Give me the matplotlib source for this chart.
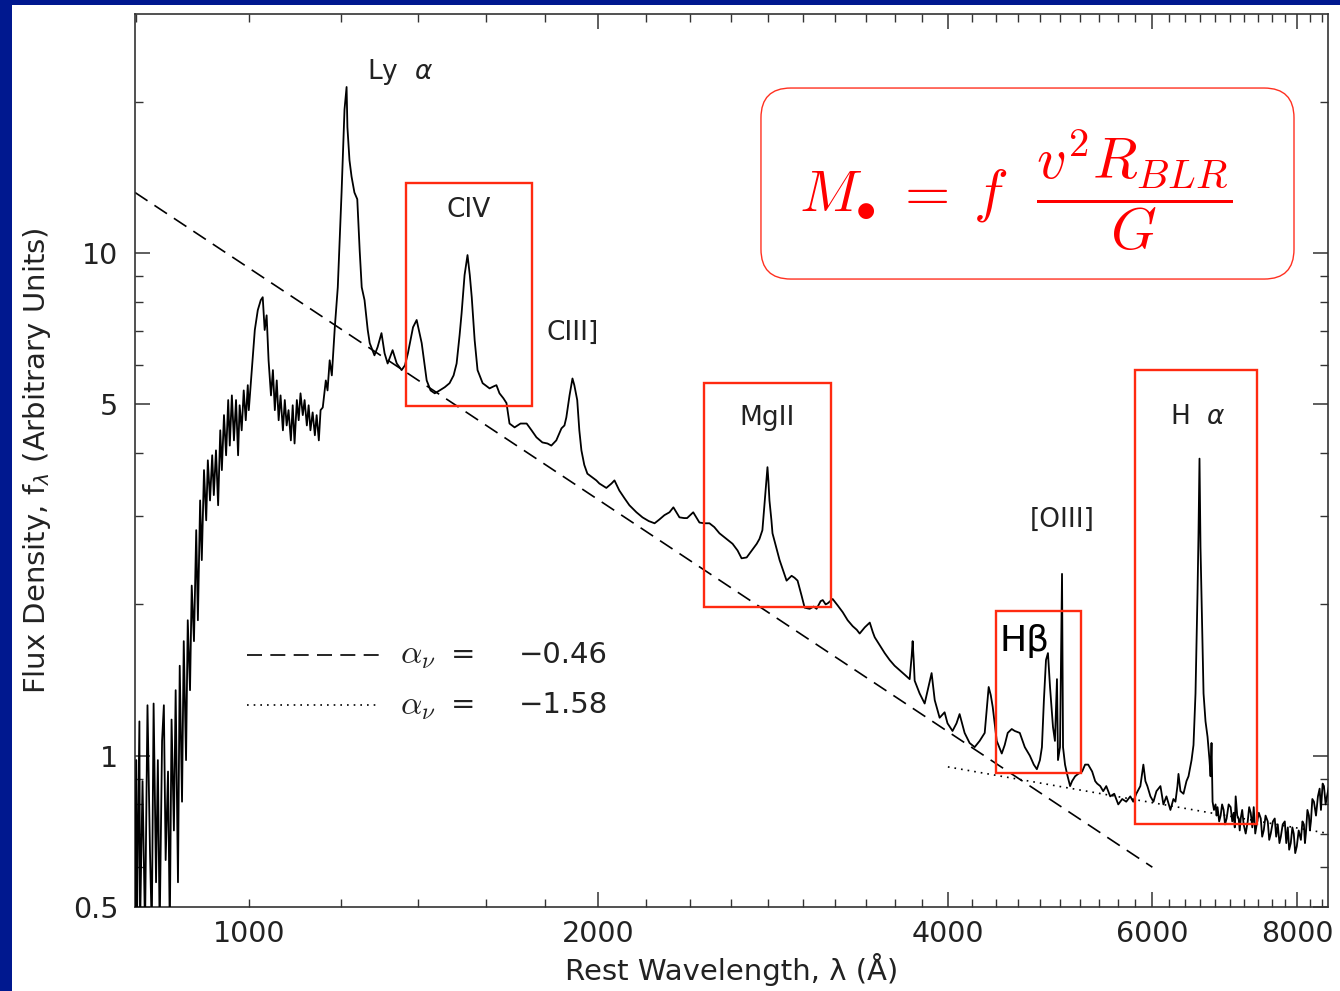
import numpy as np
import matplotlib
matplotlib.use("Agg")
import matplotlib.pyplot as plt
from matplotlib.patches import Rectangle, FancyBboxPatch
from matplotlib.ticker import FixedLocator, NullFormatter, FuncFormatter

plt.rcParams['font.family'] = ['DejaVu Sans']
plt.rcParams['mathtext.fontset'] = 'dejavusans'

# composite quasar spectrum (rest wavelength in A, flux)
wave = [798, 800, 801, 805, 806, 810, 814, 818, 822, 825, 828, 832, 835, 838, 842, 845,
        848, 852, 855, 858, 862, 865, 869, 872, 876, 879, 883, 886, 890, 893, 897, 901,
        904, 908, 911, 915, 919, 922, 926, 930, 933, 937, 941, 945, 948, 952, 956, 960,
        963, 967, 971, 975, 979, 982, 986, 990, 994, 998, 1000, 1006, 1012, 1018, 1024, 1028,
        1032, 1036, 1040, 1045, 1049, 1053, 1057, 1061, 1065, 1070, 1074, 1078, 1082, 1087,
        1091, 1095, 1100, 1104, 1108, 1113, 1117, 1122, 1126, 1130, 1135, 1140, 1144, 1149,
        1153, 1158, 1165, 1169, 1174, 1179, 1186, 1193, 1202, 1209, 1214, 1216, 1221, 1226,
        1233, 1240, 1246, 1251, 1258, 1266, 1271, 1283, 1291, 1301, 1309, 1317, 1325, 1330,
        1341, 1354, 1363, 1371, 1385, 1395, 1409, 1423, 1434, 1446, 1460, 1475, 1489, 1501,
        1510, 1519, 1525, 1534, 1543, 1550, 1556, 1565, 1574, 1590, 1612, 1625, 1634, 1644,
        1657, 1667, 1677, 1694, 1714, 1735, 1752, 1769, 1790, 1808, 1822, 1840, 1859, 1870,
        1877, 1889, 1900, 1907, 1918, 1926, 1934, 1945, 1957, 1976, 1992, 2004, 2020, 2032,
        2053, 2065, 2085, 2107, 2127, 2157, 2183, 2210, 2236, 2257, 2280, 2303, 2321, 2335,
        2349, 2371, 2385, 2414, 2429, 2444, 2468, 2493, 2517, 2543, 2578, 2610, 2636, 2657,
        2684, 2711, 2738, 2753, 2769, 2780, 2786, 2797, 2802, 2808, 2819, 2825, 2847, 2865,
        2888, 2905, 2934, 2951, 2969, 2993, 3011, 3041, 3065, 3083, 3108, 3121, 3139, 3152,
        3183, 3215, 3247, 3279, 3312, 3339, 3358, 3392, 3426, 3447, 3460, 3494, 3529, 3564,
        3599, 3635, 3671, 3708, 3723, 3730, 3738, 3745, 3782, 3820, 3843, 3873, 3897, 3935,
        3974, 3997, 4037, 4069, 4094, 4135, 4176, 4218, 4260, 4303, 4320, 4337, 4355, 4372,
        4407, 4451, 4477, 4504, 4540, 4567, 4613, 4659, 4706, 4743, 4772, 4801, 4820, 4839,
        4859, 4878, 4898, 4927, 4946, 4966, 4976, 4996, 5016, 5026, 5046, 5066, 5097, 5117,
        5148, 5179, 5220, 5251, 5283, 5325, 5357, 5378, 5411, 5443, 5476, 5519, 5563, 5608,
        5652, 5697, 5743, 5777, 5812, 5859, 5894, 5918, 5941, 5977, 6013, 6049, 6097, 6133,
        6170, 6219, 6256, 6281, 6306, 6319, 6344, 6382, 6420, 6446, 6485, 6510, 6536, 6562,
        6575, 6588, 6601, 6614, 6641, 6667, 6694, 6720, 6734, 6747, 6761, 6780, 6801, 6815,
        6828, 6850, 6870, 6890, 6911, 6930, 6952, 6980, 7008, 7030, 7050, 7065, 7078, 7100,
        7120, 7135, 7149, 7170, 7191, 7220, 7249, 7270, 7292, 7315, 7336, 7358, 7379, 7410,
        7439, 7460, 7483, 7510, 7543, 7565, 7588, 7620, 7648, 7670, 7694, 7720, 7741, 7770,
        7802, 7825, 7849, 7870, 7895, 7920, 7942, 7965, 7990, 8020, 8055, 8080, 8103, 8120,
        8135, 8160, 8184, 8200, 8217, 8240, 8266, 8300, 8332, 8360, 8382, 8410, 8432, 8460,
        8483, 8516]
flux = [0.45, 0.98, 0.45, 1.17, 0.45, 0.89, 0.45, 1.26, 0.65, 0.45, 1.27, 0.56, 0.98, 0.45, 1.07, 1.26,
        0.62, 0.93, 0.45, 1.18, 0.71, 1.35, 0.56, 1.51, 0.81, 1.69, 0.98, 1.86, 1.35, 2.18, 1.69, 2.81,
        1.86, 3.22, 2.45, 3.70, 2.94, 3.87, 3.22, 3.96, 3.30, 4.05, 3.15, 4.44, 3.70, 4.76, 3.96, 5.10,
        4.14, 5.21, 4.24, 5.10, 3.96, 4.98, 4.44, 5.33, 4.65, 5.46, 4.87, 5.85, 7.03, 7.70, 8.06, 8.17,
        7.03, 7.52, 6.12, 5.21, 5.85, 4.87, 5.58, 4.65, 5.21, 4.44, 5.10, 4.54, 4.87, 4.24,
        4.98, 4.18, 5.10, 4.65, 5.26, 4.76, 5.10, 4.54, 4.98, 4.44, 4.82, 4.34, 4.76, 4.24,
        4.87, 4.93, 5.58, 5.33, 6.12, 5.71, 7.12, 8.55, 13.2, 19.3, 21.4, 17.8, 15.3, 14.2,
        13.2, 12.8, 10.1, 8.55, 8.06, 7.03, 6.62, 6.26, 6.50, 6.93, 6.32, 6.03, 6.26, 6.41,
        6.03, 5.85, 5.98, 6.32, 7.12, 7.36, 6.62, 5.58, 5.33, 5.26, 5.33, 5.41, 5.51, 5.71,
        6.03, 6.87, 7.59, 9.04, 9.91, 9.04, 8.17, 6.71, 5.85, 5.51, 5.38, 5.43, 5.46, 5.26,
        5.14, 5.03, 4.58, 4.50, 4.58, 4.58, 4.44, 4.30, 4.20, 4.18, 4.14, 4.24, 4.48, 4.54,
        4.71, 5.21, 5.63, 5.46, 5.10, 4.44, 4.05, 3.79, 3.64, 3.58, 3.53, 3.48, 3.44, 3.41,
        3.48, 3.53, 3.37, 3.25, 3.15, 3.05, 2.98, 2.93, 2.90, 2.95, 3.01, 3.05, 3.12, 3.05,
        2.98, 2.97, 2.97, 3.05, 2.98, 2.91, 2.90, 2.90, 2.85, 2.77, 2.70, 2.64, 2.56, 2.47,
        2.48, 2.56, 2.64, 2.70, 2.81, 3.15, 3.37, 3.75, 3.53, 3.22, 2.94, 2.77, 2.59, 2.45,
        2.32, 2.23, 2.28, 2.26, 2.23, 2.08, 1.97, 1.96, 1.98, 1.96, 2.03, 2.04, 2.00, 2.01,
        2.05, 1.99, 1.93, 1.86, 1.81, 1.78, 1.75, 1.80, 1.84, 1.76, 1.72, 1.66, 1.60, 1.55,
        1.51, 1.48, 1.45, 1.42, 1.58, 1.69, 1.55, 1.41, 1.33, 1.27, 1.35, 1.46, 1.29, 1.19,
        1.22, 1.16, 1.12, 1.16, 1.21, 1.11, 1.06, 1.04, 1.07, 1.11, 1.23, 1.37, 1.32, 1.25,
        1.07, 1.01, 1.05, 1.11, 1.13, 1.12, 1.11, 1.04, 1.00, 0.96, 0.94, 0.98, 1.04, 1.29,
        1.55, 1.60, 1.37, 1.14, 1.07, 1.42, 0.98, 1.04, 2.30, 1.04, 0.96, 0.92, 0.87, 0.89,
        0.91, 0.92, 0.93, 0.96, 0.96, 0.93, 0.89, 0.88, 0.87, 0.85, 0.87, 0.83, 0.84, 0.80,
        0.82, 0.81, 0.83, 0.81, 0.84, 0.87, 0.96, 0.89, 0.87, 0.83, 0.81, 0.85, 0.87, 0.80,
        0.83, 0.78, 0.82, 0.81, 0.87, 0.92, 0.85, 0.84, 0.89, 0.91, 0.98, 1.05, 1.33, 2.10,
        2.77, 3.90, 2.60, 2.10, 1.33, 1.17, 1.09, 0.98, 0.91, 1.06, 0.81, 0.78, 0.80, 0.76,
        0.79, 0.74, 0.76, 0.80, 0.78, 0.73, 0.75, 0.80, 0.79, 0.74, 0.77, 0.72, 0.83, 0.76,
        0.75, 0.71, 0.75, 0.78, 0.73, 0.70, 0.74, 0.79, 0.77, 0.72, 0.79, 0.70, 0.73, 0.77,
        0.75, 0.69, 0.71, 0.76, 0.74, 0.68, 0.70, 0.74, 0.75, 0.69, 0.73, 0.67, 0.69, 0.73,
        0.74, 0.67, 0.72, 0.65, 0.67, 0.72, 0.70, 0.64, 0.66, 0.71, 0.68, 0.74, 0.73, 0.67,
        0.70, 0.78, 0.76, 0.71, 0.74, 0.82, 0.81, 0.76, 0.83, 0.86, 0.78, 0.88, 0.87, 0.80,
        0.83, 0.87]

# power-law continuum fits (end points)
blue_fit_wave = [798, 6000]
blue_fit_flux = [13.2, 0.60]
red_fit_wave = [4000, 8516]
red_fit_flux = [0.95, 0.70]

# line regions boxed in red: (wave_lo, wave_hi, flux_lo, flux_hi)
box_civ = (1365, 1755, 4.96, 13.8)
box_mgii = (2468, 3170, 1.98, 5.51)
box_hb = (4398, 5210, 0.925, 1.94)
box_ha = (5800, 7379, 0.732, 5.85)

fig = plt.figure(figsize=(13.4, 9.91), dpi=100)
fig.patch.set_facecolor('white')
# dark blue slide frame (left and top strips)
fig.add_artist(Rectangle((0, 0), 12 / 1340, 1, transform=fig.transFigure,
                         facecolor='#00188f', edgecolor='none', zorder=-5))
fig.add_artist(Rectangle((0, (991 - 5) / 991), 1, 5 / 991, transform=fig.transFigure,
                         facecolor='#00188f', edgecolor='none', zorder=-5))

ax = fig.add_axes([135 / 1340, 84 / 991, 1193 / 1340, 893 / 991])
ax.set_xscale('log')
ax.set_yscale('log')

ax.plot(wave, flux, color='black', lw=1.3, zorder=3)
ax.plot(blue_fit_wave, blue_fit_flux, color='black', lw=1.2, ls=(0, (9, 5)), zorder=2)
ax.plot(red_fit_wave, red_fit_flux, color='black', lw=1.2, ls=(0, (1, 3)), zorder=2)

ax.set_xlim(798, 8500)
ax.set_ylim(0.5, 29.9)

for b in [box_civ, box_mgii, box_hb, box_ha]:
    ax.add_patch(Rectangle((b[0], b[2]), b[1] - b[0], b[3] - b[2], facecolor='none',
                           edgecolor='#ff2a10', lw=1.7, zorder=4))

# ticks
ax.xaxis.set_major_locator(FixedLocator([2000, 4000, 6000, 8000]))
ax.xaxis.set_minor_locator(FixedLocator([w for w in range(800, 8600, 200) if w % 2000 != 0]))
ax.xaxis.set_major_formatter(FuncFormatter(lambda v, p: '%d' % v))
ax.xaxis.set_minor_formatter(FuncFormatter(lambda v, p: '1000' if abs(v - 1000) < 1 else ''))
ax.yaxis.set_major_locator(FixedLocator([0.5, 1, 5, 10]))
ax.yaxis.set_minor_locator(FixedLocator([0.6, 0.7, 0.8, 0.9, 2, 3, 4, 6, 7, 8, 9, 20]))
ax.yaxis.set_major_formatter(FuncFormatter(lambda v, p: '%g' % v))
ax.yaxis.set_minor_formatter(NullFormatter())

ax.tick_params(which='both', direction='in', top=True, right=True, color='#333333')
ax.tick_params(which='major', length=11, width=1.1, labelsize=20.5, labelcolor='#222222')
ax.tick_params(which='minor', length=6, width=1.0, labelsize=20.5, labelcolor='#222222')
ax.tick_params(axis='x', which='both', pad=9)
ax.tick_params(axis='y', which='both', pad=12)
for s in ax.spines.values():
    s.set_linewidth(1.2)
    s.set_color('#333333')

ax.set_xlabel('Rest Wavelength, \u03bb (\u00c5)', fontsize=21, color='#222222', labelpad=4)
ax.set_ylabel(r'Flux Density, f$_\lambda$ (Arbitrary Units)', fontsize=21, color='#222222', labelpad=14)

# line labels
ax.text(1349, 22.9, r'Ly  $\alpha$', fontsize=19, ha='center', va='center', color='#222222')
ax.text(1546, 12.2, 'CIV', fontsize=19, ha='center', va='center', color='#222222')
ax.text(1900, 6.93, 'CIII]', fontsize=19, ha='center', va='center', color='#222222')
ax.text(2797, 4.69, 'MgII', fontsize=19, ha='center', va='center', color='#222222')
ax.text(5016, 2.95, '[OIII]', fontsize=19, ha='center', va='center', color='#222222')
ax.text(6562, 4.73, r'H  $\alpha$', fontsize=19, ha='center', va='center', color='#222222')
ax.text(4659, 1.69, 'H\u03b2', fontsize=26, ha='center', va='center', color='black')

# legend for the two continuum fits
ax.plot([0.0939, 0.2054], [0.2822, 0.2822], transform=ax.transAxes, color='black', lw=1.2, ls=(0, (9, 5)))
ax.plot([0.0939, 0.2054], [0.2262, 0.2262], transform=ax.transAxes, color='black', lw=1.2, ls=(0, (1, 3)))
for yy, val in [(0.2822, '\u22120.46'), (0.2262, '\u22121.58')]:
    ax.text(0.222, yy, r'$\alpha_\nu$', transform=ax.transAxes, fontsize=24, va='center',
            color='#222222', math_fontfamily='cm')
    ax.text(0.265, yy, '=', transform=ax.transAxes, fontsize=21, va='center', color='#222222')
    ax.text(0.322, yy, val, transform=ax.transAxes, fontsize=21, va='center', color='#222222')

# mass formula box
ax.add_patch(FancyBboxPatch((0.5247, 0.7032), 0.9715 - 0.5247, 0.9171 - 0.7032,
                            boxstyle='round,pad=0,rounding_size=0.025', mutation_aspect=1.336,
                            transform=ax.transAxes, facecolor='white', edgecolor='#ff3020', lw=1.0, zorder=5))
ax.text(0.7385, 0.803, r'$M_{\bullet}\;=\;f\ \ \dfrac{v^2 R_{BLR}}{G}$', transform=ax.transAxes,
        fontsize=42, ha='center', va='center', color='red', zorder=6, math_fontfamily='cm')

fig.savefig('out.png', dpi=100, facecolor=fig.get_facecolor())
